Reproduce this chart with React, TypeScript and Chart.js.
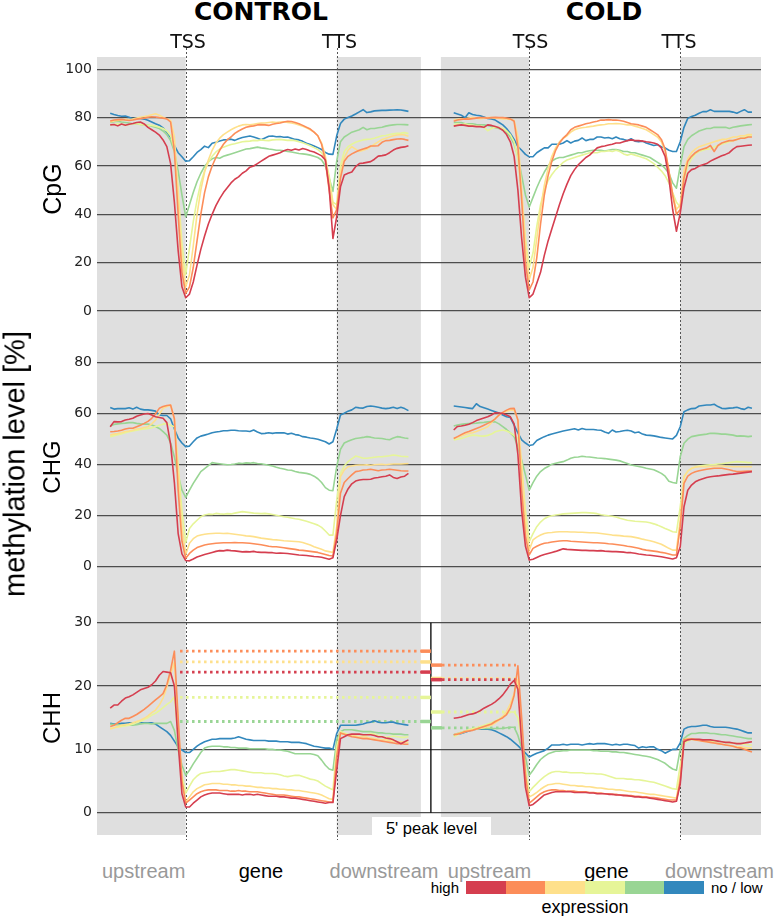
import React, { useEffect, useRef } from "react";
import { Chart, registerables } from "chart.js";

Chart.register(...registerables);

// expression classes: high -> no / low
const COLORS = ["#d53e4f", "#fc8d59", "#fee08b", "#e6f598", "#99d594", "#3288bd"];

// ---------- CpG ----------
const CPG_CONTROL_RED = [
  77.0, 77.2, 76.6, 77.4, 76.9, 77.3, 77.6, 78.0, 78.2, 77.4, 76.0, 75.0, 74.0, 72.8, 70.8, 68.0, 61.0, 45.0, 25.0, 10.0,
  5.5, 7.0, 12.0, 19.0, 25.5, 31.0, 36.0, 40.0, 43.6, 46.5, 49.0, 51.0, 53.0, 54.5, 55.5, 57.0, 58.0, 59.5, 60.0, 61.0,
  62.0, 63.0, 64.0, 64.5, 65.0, 65.5, 66.3, 66.8, 66.5, 67.0, 66.6, 67.2, 66.8, 66.2, 65.8, 65.0, 64.2, 62.5, 51.0, 30.0,
  39.0, 51.4, 56.3, 57.0, 57.5, 59.7, 61.0, 61.2, 61.5, 61.8, 62.8, 64.1, 64.3, 64.6, 65.5, 66.6, 67.3, 67.7, 67.9, 68.4,
];
const CPG_CONTROL_ORANGE = [
  78.6, 79.0, 79.2, 79.3, 79.0, 78.8, 79.0, 79.4, 79.6, 79.8, 80.2, 80.4, 80.3, 80.0, 79.8, 79.5, 78.2, 66.0, 40.0, 16.0,
  7.3, 10.0, 18.0, 29.0, 40.0, 49.0, 55.5, 60.0, 63.5, 66.5, 69.0, 70.8, 72.0, 73.5, 74.5, 75.3, 76.0, 76.4, 76.6, 77.0,
  77.1, 77.0, 76.8, 77.3, 77.6, 77.8, 78.2, 78.5, 78.4, 78.0, 77.5, 76.8, 76.0, 75.3, 74.0, 72.5, 69.0, 62.0, 50.0, 38.5,
  42.0, 55.0, 62.0, 64.0, 65.0, 65.8, 66.5, 67.0, 67.5, 68.3, 68.3, 68.4, 69.8, 70.5, 70.6, 70.9, 71.2, 71.3, 71.0, 70.6,
];
const CPG_CONTROL_LORANGE = [
  78.2, 78.6, 78.8, 79.0, 79.3, 79.0, 79.4, 79.8, 80.2, 80.5, 80.8, 81.2, 81.6, 81.0, 80.2, 79.5, 78.8, 72.0, 48.0, 22.0,
  10.0, 15.0, 27.0, 40.0, 50.0, 57.5, 62.5, 66.5, 69.5, 71.5, 73.0, 74.0, 75.0, 75.8, 76.5, 77.0, 77.2, 77.0, 77.3, 77.6,
  77.8, 77.8, 78.0, 78.2, 78.0, 78.2, 78.3, 78.0, 77.8, 77.5, 77.0, 76.4, 75.8, 75.0, 74.0, 72.5, 69.5, 64.0, 54.0, 44.0,
  42.0, 57.0, 63.5, 66.5, 68.0, 67.0, 66.0, 66.5, 67.0, 68.0, 69.0, 70.0, 71.0, 71.5, 72.0, 72.5, 72.8, 73.0, 72.8, 72.3,
];
const CPG_CONTROL_LYG = [
  77.0, 77.2, 77.5, 77.3, 77.0, 77.2, 77.5, 77.6, 77.2, 77.0, 76.8, 76.8, 76.5, 76.0, 75.5, 74.5, 72.5, 67.0, 50.0, 28.0,
  15.0, 26.0, 37.0, 46.0, 53.0, 58.0, 61.5, 64.0, 65.8, 67.0, 67.8, 68.4, 68.9, 69.2, 69.6, 70.0, 70.2, 70.3, 70.6, 70.5,
  70.8, 70.6, 70.5, 70.8, 70.9, 71.0, 70.8, 70.6, 70.7, 70.5, 70.0, 69.6, 69.0, 68.4, 67.6, 66.8, 65.5, 62.5, 56.0, 45.0,
  44.0, 60.0, 66.0, 68.0, 69.0, 69.8, 70.3, 70.8, 71.0, 71.2, 71.5, 72.0, 72.5, 72.6, 73.0, 73.3, 73.5, 73.6, 73.8, 73.4,
];
const CPG_CONTROL_GREEN = [
  78.0, 78.3, 78.5, 78.2, 78.0, 77.8, 77.5, 77.6, 77.2, 77.0, 76.8, 76.5, 76.0, 75.5, 74.5, 73.0, 70.5, 66.0, 58.0, 48.0,
  39.0, 44.0, 49.0, 53.5, 57.0, 59.8, 61.8, 63.0, 63.5, 63.2, 64.0, 64.5, 65.0, 65.5, 66.0, 66.5, 67.0, 67.2, 67.5, 67.8,
  67.5, 67.3, 67.0, 66.8, 66.5, 66.5, 66.3, 66.0, 65.8, 65.5, 65.2, 65.0, 64.8, 64.5, 64.0, 63.5, 62.5, 60.0, 55.0, 49.5,
  62.0, 70.0, 72.0, 73.0, 74.0, 74.5, 75.0, 76.0, 75.0, 75.5, 75.5, 75.8, 76.0, 76.5, 76.8, 77.0, 77.2, 77.2, 77.1, 77.0,
];
const CPG_CONTROL_BLUE = [
  81.8, 81.3, 80.9, 80.6, 80.7, 80.2, 79.6, 79.8, 79.7, 79.4, 78.9, 78.2, 77.5, 76.9, 75.8, 74.0, 71.8, 68.5, 65.5, 63.8,
  62.0, 62.2, 63.8, 65.6, 66.8, 68.2, 67.6, 69.4, 69.8, 70.3, 70.8, 70.9, 71.1, 70.6, 71.3, 71.8, 72.1, 72.4, 72.0, 71.5,
  70.9, 71.6, 72.3, 72.4, 72.1, 72.2, 71.9, 72.0, 71.5, 71.0, 70.8, 70.2, 69.4, 68.9, 68.3, 67.6, 66.8, 65.6, 64.9, 64.8,
  72.5, 77.6, 79.4, 80.1, 80.7, 81.5, 82.4, 83.3, 82.1, 82.4, 82.8, 82.9, 83.0, 83.0, 83.1, 83.2, 83.3, 83.2, 82.9, 82.6,
];
const CPG_COLD_RED = [
  76.5, 76.8, 77.0, 76.8, 76.5, 76.5, 76.3, 76.3, 76.0, 77.0, 76.8, 76.3, 75.8, 74.8, 73.0, 70.0, 64.0, 50.0, 30.0, 14.0,
  5.5, 7.0, 11.5, 16.0, 23.0, 29.0, 34.0, 39.0, 44.0, 48.5, 52.5, 56.0, 58.5, 60.5, 62.0, 63.5, 64.5, 66.0, 67.5, 68.0,
  68.3, 68.7, 69.0, 69.5, 69.5, 70.0, 70.5, 70.8, 70.5, 70.5, 70.3, 70.0, 69.8, 69.5, 69.0, 67.5, 64.0, 55.0, 42.0, 33.0,
  40.5, 51.0, 57.0, 58.5, 59.0, 60.0, 60.5, 61.0, 62.0, 62.8, 63.5, 64.2, 64.8, 65.5, 67.0, 68.0, 68.2, 68.4, 68.6, 68.7,
];
const CPG_COLD_ORANGE = [
  78.5, 79.0, 79.3, 79.5, 79.4, 79.6, 79.8, 80.0, 80.0, 79.8, 80.0, 80.1, 80.0, 80.0, 79.8, 79.5, 78.5, 68.0, 46.0, 20.0,
  8.7, 12.0, 22.0, 36.0, 48.0, 56.0, 62.0, 66.5, 69.5, 71.5, 73.0, 75.0, 76.0, 76.5, 77.0, 77.5, 77.8, 78.2, 78.5, 79.0,
  79.0, 79.2, 79.0, 79.0, 78.8, 78.5, 78.0, 77.5, 77.3, 77.0, 76.5, 76.0, 75.0, 74.0, 73.0, 71.0, 67.0, 58.0, 48.0, 40.0,
  42.0, 55.0, 62.0, 64.0, 65.5, 66.5, 67.0, 67.5, 68.5, 66.0, 68.5, 69.5, 70.0, 70.5, 70.5, 71.0, 71.5, 71.5, 72.0, 72.0,
];
const CPG_COLD_LORANGE = [
  79.0, 79.3, 79.5, 79.5, 79.8, 80.0, 79.8, 79.6, 79.8, 80.0, 80.0, 79.8, 79.8, 79.5, 79.5, 79.3, 78.8, 72.0, 50.0, 28.0,
  13.0, 18.0, 30.0, 42.0, 52.0, 59.0, 64.0, 67.5, 70.0, 71.5, 72.5, 74.0, 75.0, 75.5, 75.8, 76.0, 76.3, 76.5, 76.8, 77.0,
  77.2, 77.5, 77.5, 77.6, 77.5, 77.3, 77.0, 77.0, 76.5, 76.0, 75.5, 75.0, 74.0, 73.0, 72.0, 70.0, 66.0, 58.0, 48.0, 42.0,
  44.0, 58.0, 63.0, 65.5, 67.0, 68.0, 68.5, 69.0, 69.5, 70.0, 70.5, 71.0, 71.0, 71.5, 72.0, 72.0, 72.5, 72.5, 73.0, 73.0,
];
const CPG_COLD_LYG = [
  77.0, 77.5, 77.0, 77.5, 77.0, 76.8, 76.5, 76.5, 76.2, 74.6, 75.5, 76.0, 76.0, 75.5, 74.5, 73.0, 70.0, 63.0, 48.0, 30.0,
  18.0, 24.0, 35.0, 44.0, 50.0, 54.0, 56.5, 58.5, 60.0, 61.5, 62.5, 63.0, 63.5, 64.0, 64.5, 65.0, 65.5, 65.5, 65.5, 66.0,
  66.0, 66.3, 66.0, 66.5, 66.0, 65.0, 64.5, 65.0, 64.5, 64.0, 63.5, 63.0, 62.0, 61.0, 59.5, 58.0, 56.0, 53.0, 49.0, 45.0,
  43.0, 54.0, 60.0, 63.0, 65.0, 66.0, 66.5, 67.0, 67.0, 68.0, 68.5, 69.0, 69.5, 70.0, 70.5, 71.0, 71.5, 72.0, 72.5, 72.5,
];
const CPG_COLD_GREEN = [
  78.0, 78.0, 78.0, 77.5, 77.5, 77.5, 77.2, 77.0, 77.0, 76.8, 76.3, 75.8, 75.5, 75.0, 74.0, 72.0, 69.0, 64.0, 56.0, 48.0,
  43.0, 47.0, 51.0, 54.5, 57.5, 60.0, 62.0, 63.0, 63.5, 63.5, 64.0, 64.5, 65.0, 65.5, 65.5, 66.0, 66.3, 66.5, 66.5, 66.5,
  66.2, 66.5, 66.8, 66.8, 66.5, 66.0, 66.0, 65.5, 65.5, 65.0, 64.5, 64.0, 63.5, 62.5, 61.5, 60.5, 59.0, 57.0, 53.0, 50.8,
  60.0, 68.0, 71.0, 72.5, 73.5, 74.5, 75.0, 75.5, 75.5, 76.0, 76.0, 76.0, 76.0, 75.5, 76.0, 76.3, 76.6, 76.8, 77.0, 77.2,
];
const CPG_COLD_BLUE = [
  82.0, 81.5, 81.0, 80.0, 82.0, 81.3, 81.0, 80.8, 80.3, 79.7, 79.5, 79.0, 78.0, 77.0, 75.5, 73.5, 71.0, 68.0, 66.5, 64.8,
  63.8, 63.8, 65.5, 66.5, 67.5, 67.5, 69.0, 69.0, 69.0, 69.5, 70.5, 69.5, 70.3, 70.6, 71.6, 70.5, 71.0, 71.0, 72.0, 72.0,
  71.6, 71.8, 71.3, 72.0, 71.3, 71.0, 70.5, 71.3, 70.3, 70.0, 70.3, 69.5, 69.0, 68.5, 68.8, 68.0, 67.5, 66.5, 66.0, 66.0,
  70.0, 76.0, 79.7, 80.5, 81.0, 81.8, 82.5, 82.5, 83.3, 82.6, 82.6, 82.6, 82.6, 82.6, 82.3, 81.8, 82.6, 83.3, 82.3, 82.3,
];

// ---------- CHG ----------
const CHG_CONTROL_RED = [
  54.9, 56.9, 56.8, 56.9, 57.5, 57.8, 58.2, 59.0, 59.5, 59.9, 60.1, 59.5, 58.8, 58.5, 58.2, 56.5, 48.0, 33.0, 13.0, 5.0,
  2.4, 2.3, 3.0, 3.8, 4.3, 4.8, 5.2, 5.6, 6.0, 6.3, 6.2, 6.5, 6.3, 6.2, 6.0, 5.8, 5.9, 5.8, 6.0, 5.7,
  5.6, 5.6, 5.5, 5.5, 5.3, 5.4, 5.3, 5.2, 5.0, 4.8, 4.6, 4.5, 4.4, 4.2, 4.0, 3.9, 3.7, 3.3, 2.9, 3.5,
  10.5, 20.0, 27.5, 30.5, 32.5, 33.6, 34.0, 34.2, 34.2, 34.3, 34.8, 35.0, 35.3, 35.5, 36.0, 35.0, 34.6, 35.2, 35.5, 36.6,
];
const CHG_CONTROL_ORANGE = [
  52.9, 53.0, 53.2, 53.5, 54.0, 54.3, 54.3, 54.9, 55.5, 56.2, 57.0, 58.2, 60.0, 62.1, 62.8, 63.2, 63.4, 58.0, 30.0, 10.0,
  3.3, 5.2, 6.5, 7.5, 8.0, 8.5, 8.8, 9.0, 9.2, 9.3, 9.4, 9.4, 9.4, 9.5, 9.4, 9.4, 9.3, 9.2, 9.0, 8.8,
  8.6, 8.3, 8.0, 7.8, 7.8, 7.6, 7.4, 7.2, 7.0, 6.8, 6.5, 6.4, 6.2, 6.0, 5.8, 5.6, 5.2, 4.8, 4.4, 4.2,
  13.1, 28.8, 33.0, 34.6, 36.0, 37.3, 37.5, 37.9, 38.0, 38.2, 37.9, 37.6, 37.9, 38.0, 38.2, 38.0, 37.8, 37.6, 37.5, 37.5,
];
const CHG_CONTROL_LORANGE = [
  51.6, 52.0, 52.2, 52.5, 53.0, 53.2, 53.5, 54.0, 54.2, 54.6, 54.9, 56.0, 57.5, 59.8, 62.1, 62.8, 63.4, 58.0, 38.0, 15.0,
  4.8, 9.2, 11.0, 12.0, 12.4, 12.7, 12.9, 13.0, 13.1, 13.1, 13.0, 13.1, 12.9, 12.7, 12.5, 12.3, 12.1, 12.0, 11.8, 11.5,
  11.2, 11.0, 10.8, 10.6, 10.5, 10.4, 10.2, 10.1, 10.0, 9.9, 9.8, 9.5, 9.0, 8.5, 7.8, 7.3, 6.8, 6.2, 5.9, 5.6,
  15.7, 35.3, 38.0, 39.2, 39.5, 39.8, 39.9, 39.9, 40.0, 39.8, 40.0, 40.1, 40.2, 40.0, 40.2, 40.3, 40.3, 40.3, 40.4, 40.5,
];
const CHG_CONTROL_LYG = [
  51.0, 51.4, 51.8, 52.1, 52.5, 52.9, 53.2, 53.5, 53.8, 54.0, 54.2, 54.5, 55.0, 55.5, 55.9, 56.2, 55.5, 54.9, 40.0, 22.0,
  9.5, 15.0, 16.8, 18.2, 19.6, 20.3, 20.6, 20.5, 20.9, 20.7, 20.6, 20.8, 20.7, 21.0, 21.3, 21.6, 21.4, 21.2, 21.0, 20.9,
  20.8, 20.9, 20.7, 20.5, 20.2, 19.9, 19.6, 19.4, 19.1, 18.8, 18.6, 18.2, 17.8, 17.3, 16.8, 16.3, 15.4, 14.0, 12.4, 12.4,
  26.0, 36.6, 39.5, 41.2, 42.3, 43.4, 43.0, 42.5, 42.5, 42.7, 42.9, 43.1, 43.1, 43.3, 43.5, 43.8, 43.6, 43.3, 43.2, 43.1,
];
const CHG_CONTROL_GREEN = [
  55.2, 55.8, 56.0, 56.2, 56.3, 56.5, 56.5, 56.2, 56.0, 55.9, 55.9, 55.6, 55.0, 54.2, 53.0, 51.6, 48.5, 43.0, 36.0, 30.0,
  27.2, 30.0, 32.7, 35.0, 37.3, 38.5, 39.6, 40.8, 40.6, 40.4, 40.2, 40.0, 40.1, 40.3, 40.6, 40.5, 40.7, 40.6, 40.8, 40.5,
  40.4, 40.1, 39.8, 39.5, 39.0, 38.6, 38.3, 37.9, 37.8, 37.3, 37.0, 36.8, 36.6, 36.2, 35.5, 34.5, 33.0, 31.0, 30.0, 29.8,
  39.2, 46.0, 48.5, 49.2, 49.8, 50.3, 50.5, 50.7, 51.0, 50.8, 50.5, 50.4, 50.3, 50.0, 49.8, 50.5, 51.0, 50.8, 50.5, 50.3,
];
const CHG_CONTROL_BLUE = [
  62.4, 61.8, 62.0, 62.0, 62.0, 62.3, 61.8, 62.5, 61.8, 61.5, 61.5, 61.3, 61.0, 59.5, 59.3, 59.3, 58.0, 54.0, 50.5, 48.5,
  47.1, 47.3, 49.0, 50.5, 51.2, 51.6, 52.0, 52.5, 52.8, 53.0, 53.3, 53.3, 53.5, 53.5, 53.3, 53.2, 53.2, 53.0, 53.6, 52.8,
  52.2, 52.3, 52.5, 52.3, 52.5, 52.5, 52.5, 52.0, 52.3, 51.8, 51.6, 51.0, 50.8, 50.5, 50.3, 50.0, 49.5, 49.0, 48.1, 49.0,
  54.0, 59.5, 60.2, 61.0, 61.5, 62.5, 62.3, 62.2, 62.8, 63.0, 62.8, 62.5, 62.2, 62.0, 62.2, 62.5, 62.0, 62.5, 62.0, 61.2,
];
const CHG_COLD_RED = [
  53.6, 55.0, 55.2, 55.5, 55.9, 56.5, 57.3, 57.8, 58.3, 58.8, 59.5, 60.4, 60.3, 60.1, 59.5, 58.8, 56.0, 44.0, 22.0, 8.0,
  2.6, 2.9, 3.6, 4.3, 4.8, 5.2, 5.6, 6.0, 6.5, 7.0, 6.8, 6.7, 6.6, 6.5, 6.4, 6.4, 6.3, 6.3, 6.2, 6.3,
  6.1, 6.0, 5.9, 5.9, 5.8, 5.7, 5.5, 5.5, 5.3, 5.0, 4.8, 4.6, 4.5, 4.3, 4.1, 3.9, 3.6, 3.3, 3.0, 3.5,
  7.8, 23.5, 30.0, 32.0, 33.3, 34.0, 34.5, 35.0, 35.3, 35.5, 35.6, 35.8, 36.0, 36.2, 36.3, 36.5, 36.7, 36.9, 37.1, 37.3,
];
const CHG_COLD_ORANGE = [
  50.3, 51.0, 51.8, 52.5, 53.0, 53.6, 54.2, 54.8, 55.5, 56.2, 56.9, 58.0, 59.5, 60.5, 61.4, 62.0, 62.1, 57.5, 30.0, 12.0,
  4.6, 7.2, 8.0, 8.7, 9.2, 9.4, 9.7, 9.9, 10.1, 10.2, 10.2, 10.0, 9.9, 9.8, 9.7, 9.6, 9.5, 9.4, 9.4, 9.3,
  9.2, 9.0, 8.9, 8.7, 8.5, 8.3, 8.0, 7.8, 7.5, 7.2, 6.8, 6.5, 6.3, 6.1, 5.9, 5.6, 5.4, 5.0, 4.6, 4.6,
  15.7, 32.7, 35.5, 36.6, 37.2, 37.6, 37.9, 38.2, 38.4, 38.6, 38.6, 38.6, 38.3, 38.0, 37.6, 37.3, 37.3, 37.4, 37.5, 37.5,
];
const CHG_COLD_LORANGE = [
  50.3, 50.8, 51.3, 51.8, 52.3, 52.5, 53.0, 53.6, 54.2, 54.9, 56.5, 58.2, 59.5, 60.4, 61.0, 61.4, 61.4, 57.5, 40.0, 18.0,
  6.5, 10.5, 11.6, 12.4, 13.0, 13.3, 13.4, 13.6, 13.7, 13.7, 13.7, 13.6, 13.6, 13.5, 13.5, 13.4, 13.3, 13.3, 13.2, 13.0,
  12.8, 12.6, 12.4, 12.3, 12.2, 12.0, 11.9, 11.8, 11.5, 11.2, 10.8, 10.5, 10.2, 9.8, 9.3, 8.8, 8.0, 7.2, 6.5, 6.5,
  18.3, 35.3, 37.5, 38.6, 39.0, 39.2, 39.2, 39.2, 39.3, 39.4, 39.5, 39.5, 39.4, 39.3, 39.2, 39.2, 39.2, 39.2, 39.2, 39.2,
];
const CHG_COLD_LYG = [
  49.7, 50.0, 50.3, 50.8, 51.3, 51.6, 51.5, 51.3, 51.2, 51.5, 52.0, 52.9, 53.3, 53.6, 53.2, 52.5, 51.5, 50.3, 40.0, 22.0,
  9.8, 13.0, 15.7, 17.5, 18.8, 19.6, 20.0, 20.3, 20.5, 20.7, 20.8, 20.9, 21.0, 21.1, 21.2, 21.2, 21.1, 21.0, 20.8, 20.4,
  20.2, 20.0, 19.8, 19.5, 19.0, 18.6, 18.2, 18.0, 17.8, 17.7, 17.6, 17.5, 17.2, 16.8, 16.3, 15.7, 15.0, 14.4, 13.7, 13.5,
  23.5, 35.3, 37.5, 38.5, 39.2, 39.5, 39.7, 39.9, 40.0, 40.1, 40.3, 40.4, 40.6, 40.8, 41.0, 41.2, 41.1, 41.0, 40.8, 40.8,
];
const CHG_COLD_GREEN = [
  55.2, 55.6, 55.8, 56.0, 56.1, 56.2, 56.3, 56.5, 56.6, 56.8, 56.9, 56.8, 56.0, 54.9, 53.8, 52.5, 51.0, 47.0, 41.8, 36.0,
  30.0, 33.0, 35.5, 37.3, 38.5, 39.3, 40.2, 40.6, 40.9, 41.2, 41.8, 42.5, 42.9, 43.0, 43.3, 43.1, 43.0, 42.8, 42.6, 42.5,
  42.4, 42.2, 42.0, 41.8, 41.5, 41.0, 40.5, 39.9, 39.6, 39.3, 39.0, 38.6, 38.3, 38.0, 37.3, 36.6, 35.5, 33.5, 33.0, 32.7,
  43.1, 48.4, 50.0, 51.0, 51.3, 51.6, 51.8, 52.0, 52.3, 52.3, 52.2, 52.0, 52.0, 51.8, 51.6, 51.2, 51.3, 51.2, 51.0, 51.2,
];
const CHG_COLD_BLUE = [
  63.0, 62.8, 62.6, 62.4, 62.2, 62.0, 63.9, 62.8, 62.3, 61.8, 61.3, 60.8, 60.3, 59.5, 58.8, 58.5, 55.5, 52.5, 49.7, 48.5,
  47.5, 47.8, 49.5, 50.3, 51.0, 51.6, 52.0, 52.4, 52.8, 53.2, 53.5, 53.8, 54.1, 53.6, 54.2, 53.8, 53.8, 53.8, 53.6, 53.5,
  52.8, 52.3, 53.6, 52.8, 53.0, 53.3, 53.5, 53.2, 52.5, 52.8, 52.0, 51.6, 51.5, 51.3, 51.0, 50.7, 50.5, 50.3, 50.1, 51.5,
  54.9, 60.8, 61.5, 62.0, 62.1, 63.0, 63.2, 63.4, 63.4, 63.7, 62.8, 62.1, 62.0, 62.2, 62.3, 62.5, 62.0, 61.7, 62.5, 62.1,
];

// ---------- CHH ----------
const CHH_CONTROL_RED = [
  16.5, 17.0, 17.0, 17.6, 18.1, 18.3, 18.6, 19.0, 19.4, 19.6, 19.8, 20.2, 20.8, 21.7, 22.3, 22.2, 22.1, 20.0, 11.0, 3.0,
  0.9, 0.9, 1.5, 2.0, 2.5, 2.8, 3.0, 3.1, 3.1, 3.1, 3.0, 2.9, 2.9, 2.9, 2.9, 2.8, 2.9, 2.9, 2.8, 2.9,
  2.8, 2.7, 2.6, 2.6, 2.6, 2.5, 2.5, 2.4, 2.3, 2.3, 2.2, 2.1, 2.0, 1.9, 1.8, 1.7, 1.6, 1.5, 1.6, 1.6,
  6.7, 11.7, 12.0, 12.3, 12.4, 12.4, 12.4, 12.3, 12.3, 12.3, 12.2, 12.0, 12.0, 11.8, 11.7, 11.5, 11.2, 10.9, 11.2, 11.5,
];
const CHH_CONTROL_ORANGE = [
  13.6, 13.8, 14.2, 14.6, 14.9, 14.9, 15.2, 15.5, 15.9, 16.3, 16.8, 17.3, 17.8, 18.3, 18.8, 20.2, 22.5, 25.5, 15.0, 5.0,
  1.5, 2.0, 2.5, 3.0, 3.3, 3.5, 3.6, 3.6, 3.6, 3.5, 3.5, 3.5, 3.4, 3.4, 3.5, 3.4, 3.4, 3.3, 3.3, 3.3,
  3.2, 3.1, 3.0, 2.9, 2.8, 2.8, 2.8, 2.7, 2.6, 2.5, 2.5, 2.4, 2.3, 2.2, 2.1, 2.0, 1.9, 1.8, 1.7, 1.7,
  8.8, 12.6, 12.4, 12.2, 12.0, 11.9, 11.8, 11.7, 11.7, 11.6, 11.5, 11.4, 11.3, 11.2, 11.1, 11.0, 10.9, 10.9, 10.8, 10.8,
];
const CHH_CONTROL_LORANGE = [
  13.2, 13.4, 13.6, 13.8, 13.9, 14.0, 14.2, 14.4, 14.6, 14.9, 15.3, 15.8, 16.2, 17.0, 18.1, 19.8, 21.8, 23.8, 14.0, 5.0,
  1.7, 2.5, 3.3, 3.8, 4.1, 4.4, 4.5, 4.6, 4.6, 4.6, 4.5, 4.5, 4.4, 4.4, 4.3, 4.3, 4.2, 4.2, 4.1, 4.0,
  4.0, 3.9, 3.9, 3.8, 3.8, 3.7, 3.7, 3.6, 3.6, 3.5, 3.5, 3.4, 3.3, 3.2, 3.1, 3.0, 2.8, 2.5, 2.2, 2.1,
  9.4, 12.5, 12.4, 12.3, 12.2, 12.1, 12.0, 12.0, 11.9, 11.8, 11.7, 11.6, 11.5, 11.5, 11.4, 11.3, 11.2, 11.2, 11.1, 11.1,
];
const CHH_CONTROL_LYG = [
  13.3, 13.4, 13.5, 13.6, 13.7, 13.8, 14.0, 14.2, 14.4, 14.7, 15.0, 15.4, 15.7, 16.1, 16.6, 17.1, 17.5, 18.3, 12.0, 6.0,
  3.1, 4.2, 5.2, 5.8, 6.2, 6.3, 6.4, 6.5, 6.5, 6.5, 6.6, 6.7, 6.8, 6.8, 6.7, 6.6, 6.5, 6.4, 6.3, 6.3,
  6.3, 6.2, 6.2, 6.2, 6.1, 6.0, 5.8, 5.7, 5.8, 5.9, 5.9, 5.7, 5.5, 5.3, 5.2, 5.0, 4.6, 4.2, 3.9, 3.6,
  10.4, 12.8, 12.6, 12.4, 12.2, 12.0, 12.0, 12.1, 12.3, 12.5, 12.4, 12.2, 12.0, 11.9, 12.0, 12.1, 12.0, 11.9, 11.9, 12.0,
];
const CHH_CONTROL_GREEN = [
  14.0, 13.9, 13.9, 13.8, 13.8, 13.8, 13.8, 13.9, 14.0, 14.1, 14.1, 14.0, 14.1, 14.1, 14.1, 14.1, 14.4, 13.0, 9.9, 7.5,
  5.9, 6.7, 7.7, 8.6, 9.5, 10.2, 10.4, 10.5, 10.5, 10.5, 10.4, 10.4, 10.3, 10.3, 10.2, 10.2, 10.2, 10.1, 10.1, 10.1,
  10.1, 10.1, 10.0, 10.0, 9.9, 9.9, 9.8, 9.7, 9.5, 9.3, 9.3, 9.3, 9.3, 9.3, 9.2, 9.0, 8.3, 7.5, 6.9, 6.7,
  11.5, 12.8, 13.1, 13.1, 13.1, 13.0, 12.9, 12.8, 12.8, 12.8, 12.7, 12.6, 12.6, 12.5, 12.5, 12.4, 12.4, 12.4, 12.3, 12.3,
];
const CHH_CONTROL_BLUE = [
  14.1, 14.0, 14.0, 14.1, 14.1, 14.2, 14.2, 14.2, 14.2, 14.2, 14.2, 14.2, 14.0, 13.6, 13.2, 12.8, 12.2, 11.3, 10.4, 9.9,
  9.5, 9.5, 10.0, 10.5, 10.9, 11.2, 11.4, 11.6, 11.6, 11.7, 11.7, 11.7, 11.7, 11.8, 12.0, 11.8, 11.6, 11.5, 11.4, 11.4,
  11.4, 11.4, 11.3, 11.3, 11.3, 11.2, 11.2, 11.2, 11.1, 11.1, 11.1, 11.0, 10.9, 10.7, 10.5, 10.4, 10.3, 10.2, 10.2, 10.0,
  12.5, 13.8, 13.8, 13.8, 13.8, 13.8, 13.9, 14.0, 14.2, 14.3, 14.5, 14.3, 14.2, 14.2, 14.3, 14.3, 14.1, 14.0, 13.9, 13.8,
];
const CHH_COLD_RED = [
  14.9, 15.0, 15.1, 15.3, 15.5, 15.6, 15.8, 16.1, 16.5, 16.8, 17.1, 17.5, 18.0, 18.6, 19.4, 20.3, 20.9, 19.5, 11.0, 4.0,
  1.1, 1.3, 1.8, 2.3, 2.8, 3.0, 3.2, 3.3, 3.3, 3.3, 3.3, 3.3, 3.2, 3.2, 3.2, 3.2, 3.1, 3.1, 3.0, 3.0,
  3.0, 2.9, 2.9, 2.8, 2.8, 2.7, 2.7, 2.6, 2.5, 2.5, 2.4, 2.4, 2.3, 2.2, 2.1, 2.0, 1.9, 1.8, 1.7, 1.8,
  4.5, 11.2, 11.5, 11.6, 11.6, 11.6, 11.5, 11.5, 11.5, 11.4, 11.3, 11.2, 11.1, 11.1, 11.0, 10.9, 10.9, 11.0, 11.1, 11.2,
];
const CHH_COLD_ORANGE = [
  12.3, 12.4, 12.6, 12.8, 12.9, 13.0, 13.2, 13.4, 13.6, 13.8, 14.0, 14.4, 14.7, 15.0, 15.5, 16.5, 18.5, 23.2, 15.0, 6.0,
  1.5, 2.0, 2.5, 3.0, 3.3, 3.5, 3.6, 3.6, 3.5, 3.5, 3.4, 3.4, 3.4, 3.3, 3.3, 3.3, 3.2, 3.2, 3.1, 3.1,
  3.0, 3.0, 2.9, 2.9, 2.8, 2.8, 2.7, 2.7, 2.6, 2.6, 2.5, 2.5, 2.4, 2.4, 2.3, 2.2, 2.1, 2.0, 2.0, 2.0,
  5.0, 11.5, 11.6, 11.6, 11.5, 11.4, 11.3, 11.2, 11.1, 11.0, 10.9, 10.8, 10.7, 10.6, 10.5, 10.3, 10.2, 10.0, 9.8, 9.6,
];
const CHH_COLD_LORANGE = [
  12.3, 12.5, 12.6, 12.8, 13.0, 13.1, 13.2, 13.3, 13.4, 13.6, 13.8, 14.2, 14.6, 15.2, 16.0, 17.2, 18.8, 21.0, 12.0, 5.0,
  2.5, 2.8, 3.2, 3.7, 4.1, 4.4, 4.5, 4.6, 4.6, 4.5, 4.4, 4.3, 4.3, 4.2, 4.2, 4.1, 4.1, 4.0, 3.9, 3.9,
  3.8, 3.7, 3.7, 3.6, 3.6, 3.5, 3.4, 3.3, 3.3, 3.2, 3.1, 3.0, 2.9, 2.9, 2.8, 2.7, 2.6, 2.5, 2.4, 2.3,
  6.0, 11.5, 11.7, 11.7, 11.6, 11.5, 11.3, 11.2, 11.1, 11.0, 10.9, 10.8, 10.7, 10.6, 10.5, 10.4, 10.4, 10.3, 10.2, 10.2,
];
const CHH_COLD_LYG = [
  12.0, 12.3, 12.7, 12.9, 13.1, 13.3, 13.4, 13.6, 13.8, 14.0, 14.2, 14.5, 14.8, 15.2, 15.7, 15.9, 15.9, 15.0, 11.5, 7.0,
  3.3, 4.0, 4.6, 5.2, 5.7, 6.1, 6.4, 6.5, 6.5, 6.4, 6.4, 6.3, 6.3, 6.3, 6.3, 6.2, 6.2, 6.2, 6.1, 6.1,
  6.0, 5.8, 5.6, 5.4, 5.4, 5.4, 5.3, 5.3, 5.2, 5.2, 5.1, 5.0, 4.9, 4.8, 4.6, 4.4, 4.2, 4.0, 3.8, 3.7,
  7.5, 10.9, 11.3, 11.6, 11.5, 11.4, 11.4, 11.4, 11.3, 11.3, 11.2, 11.2, 11.1, 11.0, 11.0, 10.9, 10.9, 10.8, 10.7, 10.7,
];
const CHH_COLD_GREEN = [
  12.3, 12.5, 12.7, 12.9, 13.1, 13.2, 13.3, 13.3, 13.3, 13.3, 13.3, 13.3, 13.3, 13.3, 13.4, 13.5, 13.5, 12.2, 10.2, 8.8,
  5.9, 6.7, 7.6, 8.4, 8.9, 9.3, 9.5, 9.7, 9.7, 9.8, 9.8, 9.9, 9.9, 9.9, 9.9, 9.9, 9.9, 9.8, 9.8, 9.7,
  9.7, 9.7, 9.6, 9.6, 9.5, 9.5, 9.4, 9.3, 9.2, 9.1, 9.0, 8.9, 8.8, 8.6, 8.4, 8.1, 7.8, 7.3, 6.9, 6.7,
  10.0, 11.7, 12.2, 12.5, 12.5, 12.6, 12.6, 12.6, 12.5, 12.5, 12.4, 12.3, 12.3, 12.2, 12.1, 12.0, 11.9, 11.8, 11.7, 11.7,
];
const CHH_COLD_BLUE = [
  12.3, 12.4, 12.5, 12.7, 12.9, 13.1, 13.2, 13.2, 13.2, 13.2, 13.1, 12.9, 12.6, 12.3, 12.0, 11.6, 11.1, 10.6, 10.0, 9.4,
  8.8, 9.1, 9.4, 9.6, 9.8, 10.2, 10.7, 10.7, 10.7, 10.8, 10.7, 10.8, 10.8, 10.8, 10.7, 10.8, 10.9, 10.8, 10.9, 10.9,
  10.9, 10.8, 10.7, 10.8, 10.7, 10.8, 10.8, 10.7, 10.6, 10.2, 10.4, 10.3, 10.4, 10.4, 10.0, 9.8, 9.4, 9.7, 10.0, 10.0,
  11.0, 13.2, 13.5, 13.6, 13.6, 13.7, 13.8, 13.8, 13.6, 13.5, 13.5, 13.5, 13.5, 13.4, 13.3, 13.2, 13.0, 12.8, 12.6, 12.6,
];

// 5' peak levels (red, orange, light orange, light yellow-green, green)
const CHH_PEAK_CONTROL = [22.2, 25.5, 23.8, 18.2, 14.4];
const CHH_PEAK_COLD = [21.0, 23.3, 21.2, 15.9, 13.4];
const PEAK_AXIS = [0, 30];

// tick labels
const CPG_TICKS = [0, 20, 40, 60, 80, 100];
const CHG_TICKS = [0, 20, 40, 60, 80];
const CHH_TICKS = [0, 10, 20, 30];

// text
const PANEL_TITLES = ["CONTROL", "COLD"];
const ROW_LABELS = ["CpG", "CHG", "CHH"];
const REGION_LABELS = ["upstream", "gene", "downstream"];
const BOUNDARY_LABELS = ["TSS", "TTS"];
const Y_TITLE = "methylation level [%]";
const LEGEND_LOW = "no / low";
const LEGEND_HIGH = "high";
const LEGEND_TITLE = "expression";
const PEAK_LABEL = "5' peak level";

// geometry in bin units (each profile has 80 bins: 20 upstream, 40 gene, 20 downstream)
const X_MIN = -3.5;
const X_MAX = 172.4;
const TSS = 20;
const TTS = 60;
const COLD_OFFSET = 91;
const LEFT_END = 82.3;
const RIGHT_START = 87.6;
const GAP_MID = 84.95;
const PEAK_START = 18.5;
const PEAK_END_COLD = 16.5;
const MARKER_END = 87.9;

type Row = {
  top: number; height: number; padTop: number; padBottom: number;
  yMin: number; yMax: number; ticks: number[];
  control: number[][]; cold: number[][];
  dashTop: number; dashBottom: number;
  peaks?: { control: number[]; cold: number[] };
};

const ROWS: Row[] = [
  {
    top: 40, height: 297, padTop: 17, padBottom: 0, yMin: -10.76, yMax: 105.1, ticks: CPG_TICKS,
    control: [CPG_CONTROL_RED, CPG_CONTROL_ORANGE, CPG_CONTROL_LORANGE, CPG_CONTROL_LYG, CPG_CONTROL_GREEN, CPG_CONTROL_BLUE],
    cold: [CPG_COLD_RED, CPG_COLD_ORANGE, CPG_COLD_LORANGE, CPG_COLD_LYG, CPG_COLD_GREEN, CPG_COLD_BLUE],
    dashTop: 8, dashBottom: 297,
  },
  {
    top: 337, height: 258, padTop: 0, padBottom: 0, yMin: -11.1, yMax: 90.08, ticks: CHG_TICKS,
    control: [CHG_CONTROL_RED, CHG_CONTROL_ORANGE, CHG_CONTROL_LORANGE, CHG_CONTROL_LYG, CHG_CONTROL_GREEN, CHG_CONTROL_BLUE],
    cold: [CHG_COLD_RED, CHG_COLD_ORANGE, CHG_COLD_LORANGE, CHG_COLD_LYG, CHG_COLD_GREEN, CHG_COLD_BLUE],
    dashTop: 0, dashBottom: 258,
  },
  {
    top: 595, height: 250, padTop: 0, padBottom: 10, yMin: -3.52, yMax: 34.37, ticks: CHH_TICKS,
    control: [CHH_CONTROL_RED, CHH_CONTROL_ORANGE, CHH_CONTROL_LORANGE, CHH_CONTROL_LYG, CHH_CONTROL_GREEN, CHH_CONTROL_BLUE],
    cold: [CHH_COLD_RED, CHH_COLD_ORANGE, CHH_COLD_LORANGE, CHH_COLD_LYG, CHH_COLD_GREEN, CHH_COLD_BLUE],
    dashTop: 0, dashBottom: 245,
    peaks: { control: CHH_PEAK_CONTROL, cold: CHH_PEAK_COLD },
  },
];

function seg(x0: number, x1: number, y: number) {
  return [{ x: x0, y }, { x: x1, y }];
}

function buildChart(canvas: HTMLCanvasElement, row: Row) {
  const datasets: any[] = [];
  for (let k = 0; k < 6; k++) {
    [[row.control[k], 0], [row.cold[k], COLD_OFFSET]].forEach(([arr, off]: any) => {
      datasets.push({
        data: (arr as number[]).map((v, i) => ({ x: i + off, y: v })),
        borderColor: COLORS[k], borderWidth: 1.6, pointRadius: 0, tension: 0,
        borderJoinStyle: "round", fill: false,
      });
    });
  }
  if (row.peaks) {
    row.peaks.control.forEach((p, k) => {
      datasets.push({ data: seg(PEAK_START, LEFT_END, p), borderColor: COLORS[k], borderWidth: 2.8, borderDash: [2.5, 3.5], pointRadius: 0 });
      datasets.push({ data: seg(LEFT_END, GAP_MID, p), borderColor: COLORS[k], borderWidth: 3.5, pointRadius: 0 });
    });
    row.peaks.cold.forEach((p, k) => {
      datasets.push({ data: seg(RIGHT_START + 0.3, COLD_OFFSET + PEAK_END_COLD, p), borderColor: COLORS[k], borderWidth: 2.8, borderDash: [2.5, 3.5], pointRadius: 0 });
      datasets.push({ data: seg(GAP_MID, MARKER_END, p), borderColor: COLORS[k], borderWidth: 3.5, pointRadius: 0 });
    });
    datasets.push({
      data: [{ x: GAP_MID, y: PEAK_AXIS[0] }, { x: GAP_MID, y: PEAK_AXIS[1] }],
      borderColor: "#000", borderWidth: 1.3, pointRadius: 0,
    });
  }

  const bgPlugin = {
    id: "bands",
    beforeDraw(chart: any) {
      const { ctx, chartArea } = chart;
      const xs = chart.scales.x;
      const bands = [
        [X_MIN, TSS], [TTS, LEFT_END],
        [RIGHT_START, COLD_OFFSET + TSS], [COLD_OFFSET + TTS, X_MAX],
      ];
      ctx.save();
      ctx.fillStyle = "#dfdfdf";
      bands.forEach(([a, b]) => {
        const x0 = xs.getPixelForValue(a);
        const x1 = xs.getPixelForValue(b);
        ctx.fillRect(x0, chartArea.top, x1 - x0, chartArea.bottom - chartArea.top);
      });
      ctx.restore();
    },
    beforeDatasetsDraw(chart: any) {
      const { ctx } = chart;
      const xs = chart.scales.x;
      ctx.save();
      ctx.strokeStyle = "#555";
      ctx.lineWidth = 1;
      ctx.setLineDash([2, 2]);
      [TSS, TTS, COLD_OFFSET + TSS, COLD_OFFSET + TTS].forEach((v) => {
        const x = Math.round(xs.getPixelForValue(v)) + 0.5;
        ctx.beginPath();
        ctx.moveTo(x, row.dashTop);
        ctx.lineTo(x, row.dashBottom);
        ctx.stroke();
      });
      ctx.restore();
    },
  };

  return new Chart(canvas, {
    type: "line",
    data: { datasets },
    options: {
      animation: false,
      responsive: false,
      events: [],
      layout: { padding: { left: 0, right: 19, top: row.padTop, bottom: row.padBottom } },
      plugins: { legend: { display: false }, tooltip: { enabled: false }, title: { display: false } },
      scales: {
        x: { type: "linear", min: X_MIN, max: X_MAX, display: false },
        y: {
          type: "linear",
          min: row.yMin,
          max: row.yMax,
          afterBuildTicks: (s: any) => { s.ticks = row.ticks.map((v) => ({ value: v })); },
          afterFit: (s: any) => { s.width = 97; s.paddingTop = 0; s.paddingBottom = 0; },
          grid: { color: "#4d4d4d", lineWidth: 1.2, drawTicks: false },
          border: { display: false },
          ticks: { font: { family: "DejaVu Sans", size: 14 }, color: "#222", padding: 5 },
        },
      },
    } as any,
    plugins: [bgPlugin],
  });
}

function Txt(props: {
  x: number; y: number; text: string; size: number; color?: string; weight?: number;
  family?: string; rotate?: boolean; align?: "center" | "right" | "left";
}) {
  const { x, y, text, size, color = "#000", weight = 400, family = "'Liberation Sans', Arial, sans-serif", rotate = false, align = "center" } = props;
  const tx = align === "center" ? "-50%" : align === "right" ? "-100%" : "0";
  return (
    <div
      style={{
        position: "absolute", left: x, top: y,
        transform: `translate(${tx}, -50%)${rotate ? " rotate(-90deg)" : ""}`,
        transformOrigin: rotate ? "50% 50%" : undefined,
        fontSize: size, fontFamily: family, color, fontWeight: weight,
        whiteSpace: "nowrap", lineHeight: 1,
      }}
    >
      {text}
    </div>
  );
}

export default function App() {
  const refs = useRef<(HTMLCanvasElement | null)[]>([]);

  useEffect(() => {
    const charts = ROWS.map((row, i) => buildChart(refs.current[i] as HTMLCanvasElement, row));
    return () => charts.forEach((c) => c.destroy());
  }, []);

  const dejavu = "'DejaVu Sans', Verdana, sans-serif";
  const regionX = [[143.7, 261, 384], [489.5, 606.5, 719.5]];
  const boundaryX = [[188, 339.5], [530.5, 679]];
  const titleX = [261, 604];
  const rowY = [189, 467, 718];
  const rowSize = [25, 24, 24];

  return (
    <div style={{ position: "absolute", left: 0, top: 0, width: 780, height: 916, background: "#fff", overflow: "hidden" }}>
      {ROWS.map((row, i) => (
        <canvas
          key={i}
          ref={(el) => { refs.current[i] = el; }}
          width={780}
          height={row.height}
          style={{ position: "absolute", left: 0, top: row.top, width: 780, height: row.height }}
        />
      ))}

      {PANEL_TITLES.map((t, i) => (
        <Txt key={t} x={titleX[i]} y={11} text={t} size={25} weight={700} family={dejavu} />
      ))}
      {boundaryX.map((pair, p) =>
        pair.map((x, j) => <Txt key={`b${p}${j}`} x={x} y={41} text={BOUNDARY_LABELS[j]} size={19} family={dejavu} color="#111" />)
      )}

      <Txt x={15} y={464} text={Y_TITLE} size={29} rotate />
      {ROW_LABELS.map((t, i) => (
        <Txt key={t} x={52} y={rowY[i]} text={t} size={rowSize[i]} rotate />
      ))}

      {regionX.map((xs, p) =>
        xs.map((x, j) => (
          <Txt key={`r${p}${j}`} x={x} y={871} text={REGION_LABELS[j]} size={20} color={j === 1 ? "#000" : "#999"} />
        ))
      )}

      <div
        style={{
          position: "absolute", left: 372, top: 817, width: 119, height: 22, background: "#fff",
          display: "flex", alignItems: "center", justifyContent: "center",
          fontFamily: "'Liberation Sans', Arial, sans-serif", fontSize: 16.5, color: "#000", whiteSpace: "nowrap",
        }}
      >
        {PEAK_LABEL}
      </div>

      <Txt x={459} y={887} text={LEGEND_HIGH} size={15} align="right" />
      <div style={{ position: "absolute", left: 466, top: 881, width: 238, height: 13, display: "flex" }}>
        {COLORS.map((c) => (
          <div key={c} style={{ flex: 1, background: c }} />
        ))}
      </div>
      <Txt x={711} y={887} text={LEGEND_LOW} size={15} align="left" />
      <Txt x={585} y={907} text={LEGEND_TITLE} size={18} />
    </div>
  );
}
